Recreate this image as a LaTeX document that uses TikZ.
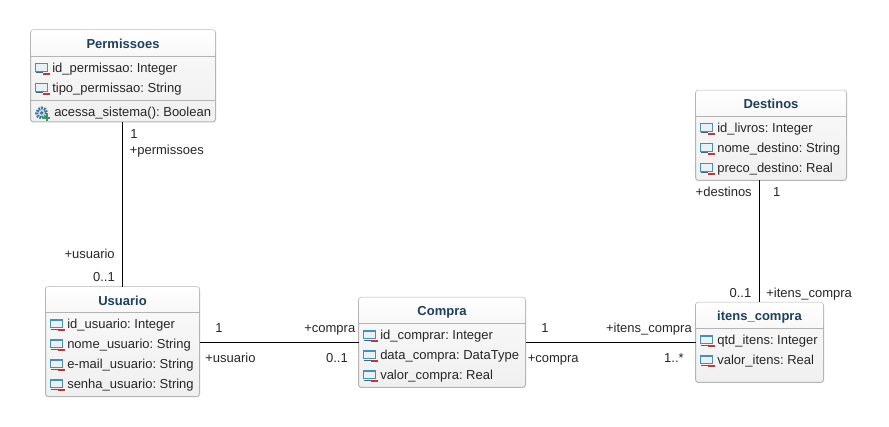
\documentclass[tikz,border=0pt]{standalone}
\usepackage{fontspec}
\setmainfont{Liberation Sans}
\frenchspacing
\usetikzlibrary{positioning}
\definecolor{titleblue}{HTML}{1F3F5F}
\definecolor{boxgray}{HTML}{B4B4B4}
\definecolor{icoblue}{HTML}{4A8DB8}
\definecolor{icored}{HTML}{C8323C}
\definecolor{icogreen}{HTML}{2E9E5A}
\tikzset{
  size/.style 2 args={minimum width=#1*0.75pt,minimum height=#2*0.75pt},
  classbox/.style={draw=boxgray,line width=0.75pt,rounded corners=2.25pt,inner sep=0pt,outer sep=0pt,top color=white!98!black,bottom color=white!94!black},
  classtitle/.style={rounded corners=2pt,inner sep=0pt,outer sep=0pt,top color=white,bottom color=white!97!black,text=titleblue,text height=8.2pt,text depth=0pt,font=\fontsize{9.75}{12}\selectfont\bfseries},
  classsep/.style={draw=boxgray,line width=0.6pt},
  attrtext/.style={anchor=base west,inner sep=0pt,yshift=-0.75pt,font=\fontsize{9.75}{12}\selectfont\frenchspacing,text=black!85},
  endleft/.style={anchor=base west,inner sep=0pt,yshift=-0.75pt,font=\fontsize{9.75}{12}\selectfont,text=black!85},
  endright/.style={anchor=base east,inner sep=0pt,yshift=-0.75pt,font=\fontsize{9.75}{12}\selectfont,text=black!85},
  endmid/.style={anchor=base,inner sep=0pt,yshift=-0.75pt,font=\fontsize{9.75}{12}\selectfont,text=black!85},
  assoc/.style={draw=black,line width=0.85pt},
  attricon/.pic={
    \draw[icoblue,line width=0.9pt,fill=icoblue!12] (-6.3,-3.9) rectangle (6,3.5);
    \draw[icoblue!75!black,line width=0.8pt] (-6,5.2) -- (1,5.2);
    \fill[icored] (1.5,5) rectangle (8,7);
  },
  opicon/.pic={
    \draw[icoblue!80!black,line width=2.2pt,dash pattern=on 1.2pt off 0.9pt,fill=icoblue!30] (0,0) circle (5);
    \fill[icoblue!80!black] (0,0) circle (1.8);
    \draw[icogreen,line width=1.6pt] (1.5,4.7) -- (8.5,4.7) (5,1.2) -- (5,8.2);
  }
}
\begin{document}
\begin{tikzpicture}[x=0.75pt,y=-0.75pt]
\useasboundingbox (0,0) rectangle (889,427);
% boxes
\node[classbox,size={185}{92}] (permissoes) at (123,76) {};
\node[classbox,size={154}{110}] (usuario) at (122.5,341.75) {};
\node[classbox,size={167}{90}] (compra) at (442,342.5) {};
\node[classbox,size={151}{90}] (destinos) at (771,135.5) {};
\node[classbox,size={128}{80}] (itens_compra) at (759.5,342.5) {};
% titles
\node[classtitle,size={184}{26},anchor=north] (permissoes_t) at (permissoes.north) {Permissoes};
\node[classtitle,size={153}{26},anchor=north] (usuario_t) at (usuario.north) {Usuario};
\node[classtitle,size={166}{26},anchor=north] (compra_t) at (compra.north) {Compra};
\node[classtitle,size={150}{26},anchor=north] (destinos_t) at (destinos.north) {Destinos};
\node[classtitle,size={127}{26},anchor=north] (itens_compra_t) at (itens_compra.north) {itens\_compra};
\draw[classsep] (permissoes_t.south west) -- (permissoes_t.south east);
\draw[classsep] (usuario_t.south west) -- (usuario_t.south east);
\draw[classsep] (compra_t.south west) -- (compra_t.south east);
\draw[classsep] (destinos_t.south west) -- (destinos_t.south east);
\draw[classsep] (itens_compra_t.south west) -- (itens_compra_t.south east);
\draw[classsep] (permissoes.west |- 0,100) -- (permissoes.east |- 0,100);
% attributes
\pic at (41.5,67.7) {attricon};
\node[attrtext] (perm_a) at (52,71.7) {id\_permissao: Integer};
\pic at (41.5,87.7) {attricon};
\node[attrtext] (perm_b) at (52,91.7) {tipo\_permissao: String};
\pic at (41.7,113) {opicon};
\node[attrtext] (perm_c) at (54,116) {acessa\_sistema(): Boolean};
\pic at (56.5,324) {attricon};
\node[attrtext] (usu_a) at (67,328) {id\_usuario: Integer};
\pic at (56.5,344) {attricon};
\node[attrtext] (usu_b) at (67,348) {nome\_usuario: String};
\pic at (56.5,364) {attricon};
\node[attrtext] (usu_c) at (67,368) {e-mail\_usuario: String};
\pic at (56.5,384) {attricon};
\node[attrtext] (usu_d) at (67,388) {senha\_usuario: String};
\pic at (369.5,335) {attricon};
\node[attrtext] (com_a) at (380,339) {id\_comprar: Integer};
\pic at (369.5,355) {attricon};
\node[attrtext] (com_b) at (380,359) {data\_compra: DataType};
\pic at (369.5,375) {attricon};
\node[attrtext] (com_c) at (380,379) {valor\_compra: Real};
\pic at (706.5,127.7) {attricon};
\node[attrtext] (des_a) at (717,131.7) {id\_livros: Integer};
\pic at (706.5,147.7) {attricon};
\node[attrtext] (des_b) at (717,151.7) {nome\_destino: String};
\pic at (706.5,167.7) {attricon};
\node[attrtext] (des_c) at (717,171.7) {preco\_destino: Real};
\pic at (706.5,340) {attricon};
\node[attrtext] (ite_a) at (717,344) {qtd\_itens: Integer};
\pic at (706.5,360) {attricon};
\node[attrtext] (ite_b) at (717,364) {valor\_itens: Real};
% associations
\draw[assoc] (permissoes.south -| usuario.north) -- (usuario.north);
\draw[assoc] (usuario.east |- compra.west) -- (compra.west);
\draw[assoc] (compra.east) -- (itens_compra.west);
\draw[assoc] (destinos.south -| itens_compra.north) -- (itens_compra.north);
% association ends
\node[endleft] (e1) at (130,138) {1};
\node[endleft] (e2) at (129.5,154) {+permissoes};
\node[endright] (e3) at (115,258) {+usuario};
\node[endright] (e4) at (115,281) {0..1};
\node[endmid] (e5) at (219,332) {1};
\node[endright] (e6) at (355.5,332) {+compra};
\node[endleft] (e7) at (205,362) {+usuario};
\node[endright] (e8) at (348,362) {0..1};
\node[endmid] (e9) at (545,332) {1};
\node[endright] (e10) at (692,332) {+itens\_compra};
\node[endleft] (e11) at (527.5,362) {+compra};
\node[endright] (e12) at (684,362) {1..*};
\node[endright] (e13) at (752,196) {+destinos};
\node[endmid] (e14) at (776.7,196) {1};
\node[endright] (e15) at (751.5,297) {0..1};
\node[endleft] (e16) at (766,297) {+itens\_compra};
\end{tikzpicture}
\end{document}
